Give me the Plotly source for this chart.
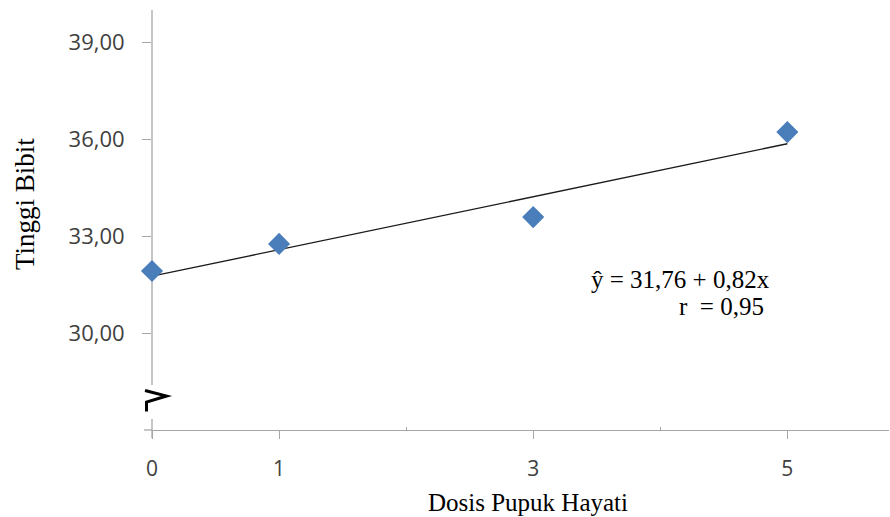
import plotly.graph_objects as go

# data
dosis = [0, 1, 3, 5]
tinggi = [31.92, 32.76, 33.59, 36.22]
trend_x = [0, 5]
trend_y = [31.76, 35.86]
y_ticks = [30, 33, 36, 39]
y_tick_labels = ["30,00", "33,00", "36,00", "39,00"]
x_ticks = [0, 1, 3, 5]
x_tick_labels = ["0", "1", "3", "5"]
eq_text = "ŷ = 31,76 + 0,82x"
r_text = "r  = 0,95"

W, H = 890, 517
PL, PR, PT, PB = 152, 889, 10, 430   # plot-area edges in page pixels
L, T = PL, PT
R = W - PR
B = H - PB
PW, PH = PR - PL, PB - PT

def px(x):
    return (x - PL) / PW

def py(y):
    return (PB - y) / PH

fig = go.Figure()
fig.add_trace(go.Scatter(x=trend_x, y=trend_y, mode="lines", cliponaxis=False,
                         line=dict(color="#1a1a1a", width=1.3), hoverinfo="skip"))
fig.add_trace(go.Scatter(x=dosis, y=tinggi, mode="markers", cliponaxis=False,
                         marker=dict(symbol="diamond", size=17, color="#4a7ebb",
                                     line=dict(width=0))))

axis_col = "#a6a6a6"
sans = "Open Sans"
serif = "Liberation Serif"

fig.update_layout(
    width=W, height=H, margin=dict(l=L, r=R, t=T, b=B),
    paper_bgcolor="white", plot_bgcolor="white", showlegend=False,
    xaxis=dict(range=[0, 5.8], tickvals=x_ticks, ticktext=x_tick_labels,
               showgrid=False, zeroline=False, showline=True, linecolor=axis_col,
               linewidth=1.3, ticks="outside", ticklen=8, tickcolor=axis_col,
               tickwidth=1.3, ticklabelstandoff=12,
               minor=dict(tickvals=[2, 4], ticks="inside", ticklen=3,
                          tickcolor=axis_col, tickwidth=1.3),
               tickfont=dict(family=sans, size=21, color="#404040")),
    yaxis=dict(range=[27, 40], tickvals=y_ticks, ticktext=y_tick_labels,
               showgrid=False, zeroline=False, showline=False,
               ticks="outside", ticklen=9, tickcolor=axis_col, tickwidth=1.3,
               ticklabelstandoff=13,
               tickfont=dict(family=sans, size=22, color="#404040")),
)

# y-axis line with break
shapes = [
    dict(type="line", xref="paper", yref="paper", x0=0, x1=0, y0=1, y1=py(385),
         line=dict(color=axis_col, width=1.3), layer="below"),
    dict(type="line", xref="paper", yref="paper", x0=0, x1=0, y0=py(419), y1=py(438),
         line=dict(color=axis_col, width=1.3)),
    dict(type="line", xref="paper", yref="paper", x0=px(144), x1=0, y0=0, y1=0,
         line=dict(color=axis_col, width=1.3)),
    dict(type="path", xref="paper", yref="paper",
         path=f"M {px(145)},{py(390.5)} L {px(166.5)},{py(396)} L {px(146.5)},{py(402)} L {px(146.5)},{py(411.5)}",
         line=dict(color="black", width=3)),
]
fig.update_layout(shapes=shapes)

fig.add_annotation(text="Dosis Pupuk Hayati", xref="paper", yref="paper",
                   x=px(528), y=py(502), xanchor="center", yanchor="middle",
                   showarrow=False, font=dict(family=serif, size=25, color="black"))
fig.add_annotation(text="Tinggi Bibit", xref="paper", yref="paper",
                   x=px(25), y=py(204), xanchor="center", yanchor="middle", textangle=-90,
                   showarrow=False, font=dict(family=serif, size=27, color="black"))
fig.add_annotation(text=eq_text, xref="paper", yref="paper",
                   x=px(772), y=py(279), xanchor="right", yanchor="middle",
                   showarrow=False, font=dict(family=serif, size=25, color="black"))
fig.add_annotation(text=r_text, xref="paper", yref="paper",
                   x=px(766), y=py(307), xanchor="right", yanchor="middle",
                   showarrow=False, font=dict(family=serif, size=25, color="black"))

fig.write_html(
    "out.html",
    config={"displayModeBar": False},
    post_script="document.documentElement.style.overflow='hidden';"
                "document.body.style.margin='0';document.body.style.overflow='hidden';",
)
